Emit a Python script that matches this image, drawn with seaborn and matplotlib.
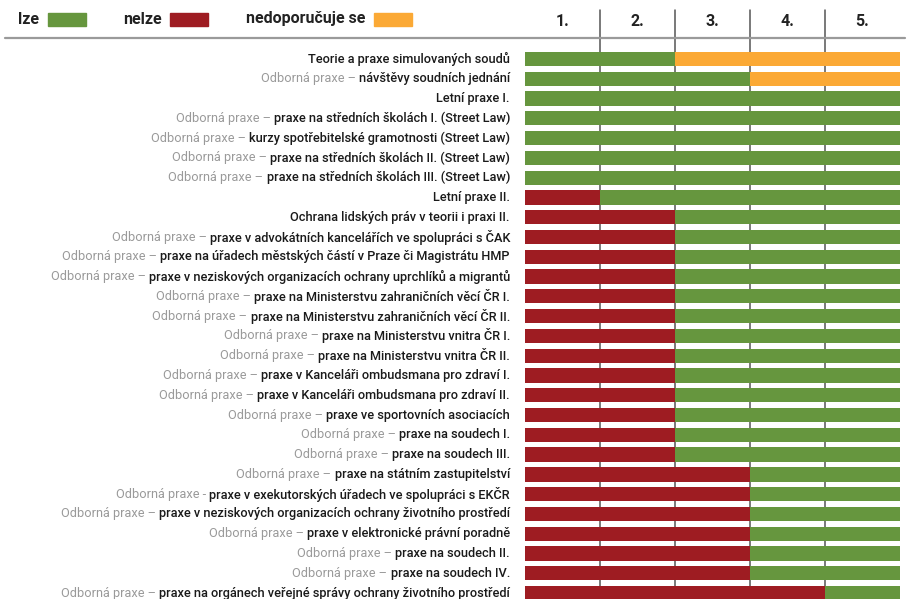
import matplotlib
matplotlib.use("Agg")
import matplotlib.pyplot as plt
import matplotlib.transforms as mtransforms
from matplotlib.lines import Line2D
from matplotlib.patches import Rectangle
import seaborn as sns

sns.set_style("white")
plt.rcParams['font.family'] = ['Roboto', 'DejaVu Sans']

# column headers (study years)
years = ["1.", "2.", "3.", "4.", "5."]

# grey prefix of each course label
prefixes = [
    "",
    "Odborná praxe – ",
    "",
    "Odborná praxe – ",
    "Odborná praxe – ",
    "Odborná praxe – ",
    "Odborná praxe – ",
    "",
    "",
    "Odborná praxe – ",
    "Odborná praxe – ",
    "Odborná praxe – ",
    "Odborná praxe – ",
    "Odborná praxe – ",
    "Odborná praxe – ",
    "Odborná praxe – ",
    "Odborná praxe – ",
    "Odborná praxe – ",
    "Odborná praxe – ",
    "Odborná praxe – ",
    "Odborná praxe – ",
    "Odborná praxe – ",
    "Odborná praxe - ",
    "Odborná praxe – ",
    "Odborná praxe – ",
    "Odborná praxe – ",
    "Odborná praxe – ",
    "Odborná praxe – ",
]

# black part of each course label
names = [
    "Teorie a praxe simulovaných soudů",
    "návštěvy soudních jednání",
    "Letní praxe I.",
    "praxe na středních školách I. (Street Law)",
    "kurzy spotřebitelské gramotnosti (Street Law)",
    "praxe na středních školách II. (Street Law)",
    "praxe na středních školách III. (Street Law)",
    "Letní praxe II.",
    "Ochrana lidských práv v teorii i praxi II.",
    "praxe v advokátních kancelářích ve spolupráci s ČAK",
    "praxe na úřadech městských částí v Praze či Magistrátu HMP",
    "praxe v neziskových organizacích ochrany uprchlíků a migrantů",
    "praxe na Ministerstvu zahraničních věcí ČR I.",
    "praxe na Ministerstvu zahraničních věcí ČR II.",
    "praxe na Ministerstvu vnitra ČR I.",
    "praxe na Ministerstvu vnitra ČR II.",
    "praxe v Kanceláři ombudsmana pro zdraví I.",
    "praxe v Kanceláři ombudsmana pro zdraví II.",
    "praxe ve sportovních asociacích",
    "praxe na soudech I.",
    "praxe na soudech III.",
    "praxe na státním zastupitelství",
    "praxe v exekutorských úřadech ve spolupráci s EKČR",
    "praxe v neziskových organizacích ochrany životního prostředí",
    "praxe v elektronické právní poradně",
    "praxe na soudech II.",
    "praxe na soudech IV.",
    "praxe na orgánech veřejné správy ochrany životního prostředí",
]

# status per year: L = lze, N = nelze, D = nedoporučuje se
status = [
    "LLDDD", "LLLDD", "LLLLL", "LLLLL", "LLLLL", "LLLLL", "LLLLL",
    "NLLLL",
    "NNLLL", "NNLLL", "NNLLL", "NNLLL", "NNLLL", "NNLLL", "NNLLL",
    "NNLLL", "NNLLL", "NNLLL", "NNLLL", "NNLLL", "NNLLL",
    "NNNLL", "NNNLL", "NNNLL", "NNNLL", "NNNLL", "NNNLL",
    "NNNNL",
]

legend_labels = ["lze", "nelze", "nedoporučuje se"]
colors = {"L": "#66963e", "N": "#9e1c22", "D": "#fba935"}

W, H = 908, 599
fig = plt.figure(figsize=(W / 100, H / 100), dpi=100)

n = len(names)
row_h = 19.78
top_px = 59 - row_h / 2
bot_px = top_px + n * row_h
ax = fig.add_axes([525 / W, (H - bot_px) / H, 375 / W, (bot_px - top_px) / H])

rows = [str(i) for i in range(n)]
# paint full bars year by year, shortest last so each segment keeps its colour
for j in range(5, 0, -1):
    pal = [colors[s[j - 1]] for s in status]
    sns.barplot(x=[j] * n, y=rows, hue=rows, palette=pal, order=rows,
                hue_order=rows, legend=False, width=0.72, saturation=1,
                linewidth=0, orient="h", ax=ax, zorder=2)

ax.set_xlim(0, 5)
ax.set_ylim(n - 0.5, -0.5)
ax.set_axis_off()

def ay(px):
    return (bot_px - px) / (bot_px - top_px)

for x in range(1, 5):
    ax.axvline(x, ymin=0, ymax=ay(10), color="#555555", lw=1.1, zorder=1, clip_on=False)

hdr = mtransforms.blended_transform_factory(ax.transData, ax.transAxes)
for j, yr in enumerate(years):
    ax.text(j + 0.5, ay(21), yr, transform=hdr, ha="center", va="center",
            fontsize=11.5, fontweight="bold", color="#222222")

fig.add_artist(Line2D([5 / W, 905 / W], [1 - 38 / H] * 2, color="#9a9a9a", lw=1.6))

# legend row
leg_x = [(18, 48), (123, 170), (246, 374)]
for (tx, px), lab, key in zip(leg_x, legend_labels, ["L", "N", "D"]):
    fig.text(tx / W, 1 - 19 / H, lab, ha="left", va="center", fontsize=11.5,
             fontweight="bold", color="#222222")
    fig.add_artist(Rectangle((px / W, 1 - 26 / H), 38 / W, 13 / H,
                             color=colors[key], transform=fig.transFigure))

# two-tone labels
fig.canvas.draw()
renderer = fig.canvas.get_renderer()
for i, (pre, name) in enumerate(zip(prefixes, names)):
    t = ax.text(-0.2, i, name, ha="right", va="center", fontsize=9.15,
                fontweight="medium", color="#1a1a1a")
    if pre:
        w = t.get_window_extent(renderer).width
        tr = mtransforms.offset_copy(ax.transData, fig=fig, x=-w, y=0, units="dots")
        ax.text(-0.2, i, pre, ha="right", va="center", fontsize=9.15,
                color="#9a9a9a", transform=tr)

fig.savefig("out.png", dpi=100)
